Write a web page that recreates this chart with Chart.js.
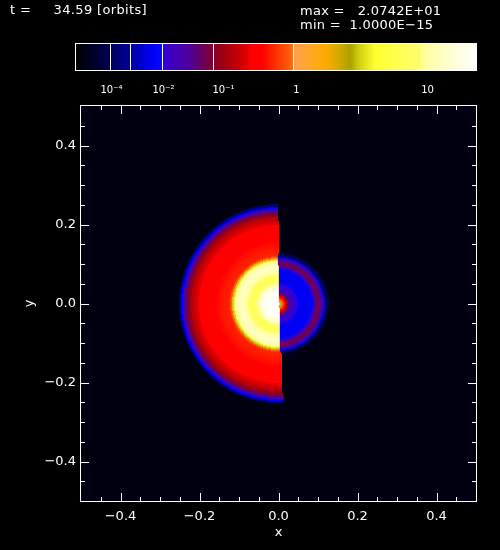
<!DOCTYPE html>
<html>
<head>
<meta charset="utf-8">
<title>Density map</title>
<script src="https://cdn.jsdelivr.net/npm/chart.js@4"></script>
<style>
  body { margin: 0; background: #000; }
  #wrap { position: relative; width: 500px; height: 550px; overflow: hidden; }
  canvas { position: absolute; left: 0; top: 0; }
  .head { position: absolute; color: #fff; font: 13px "DejaVu Sans", sans-serif; white-space: pre; line-height: 14px; }
</style>
</head>
<body>
<div id="wrap">
  <canvas id="mapChart" width="500" height="550"></canvas>
  <canvas id="barChart" width="500" height="75" style="top:30px;height:75px"></canvas>
  <div class="head" style="left:10px;top:3px;letter-spacing:0.35px">t =     34.59 [orbits]</div>
  <div class="head" style="left:300px;top:4px;letter-spacing:0.25px">max =   2.0742E+01</div>
  <div class="head" style="left:300px;top:18px;letter-spacing:0.25px">min =  1.0000E−15</div>
</div>
<script>
// axis ticks
const majorTicks = [-0.4, -0.2, 0.0, 0.2, 0.4];
const minorTicks = [-0.45, -0.35, -0.3, -0.25, -0.15, -0.1, -0.05, 0.05, 0.1, 0.15, 0.25, 0.3, 0.35, 0.45];

// density, one value per ring from the centre outwards
const ringWidth = 0.005;
const leftDensity = [20.5, 20.5, 20.5, 20.5, 20, 19.5, 19, 17, 14.5, 12, 10, 8, 7.5, 8, 8.5, 10.5, 11.5, 13, 13, 12.5, 12, 10, 3.4, 0.9,
  0.55, 0.53, 0.51, 0.5, 0.48, 0.46, 0.44, 0.42, 0.41, 0.4, 0.38, 0.36, 0.34, 0.33, 0.32, 0.3, 0.27, 0.24, 0.2, 0.18, 0.13, 0.1,
  0.05, 0.02, 0.006, 0.0003];
const rightDensity = [4.5, 3, 0.9, 0.3, 0.15, 0.05, 0.02, 0.012, 0.012, 0.012, 0.008, 0.005, 0.005, 0.005, 0.005, 0.005, 0.005,
  0.008, 0.02, 0.05, 0.08, 0.05, 0.012, 0.002, 0.00005];

// colour bar: colour stops by bin, bins of its tick lines and labels
const stopBins = [0, 34, 54, 74, 86, 89, 114, 136, 148, 171, 174, 186, 199, 217, 218, 234, 249, 264, 274, 282, 299, 345, 347, 400];
const stopColors = ['#000000', '#000058', '#0000a0', '#0000f0', '#0808ff', '#3800d0', '#50009a', '#800030', '#a00010', '#e00000',
  '#ff0000', '#ff0000', '#ff3000', '#ff6a10', '#ffa050', '#ffa828', '#ffaa00', '#d0aa00', '#aaa000', '#cccc10', '#ffff30', '#ffff70',
  '#ffffa0', '#ffffff'];
const barLineBins = [34, 54, 86, 137, 217, 345];
const barLineValues = [1e-4, 1e-3, 1e-2, 1e-1, 1, 10];
const barLabelBins = [35, 87, 147, 220, 351];
const barLabels = ['10⁻⁴', '10⁻²', '10⁻¹', '1', '10'];
const dataMin = 1e-15;
const dataMax = 20.742;

const textFont = { family: '"DejaVu Sans", sans-serif', size: 13 };

function hex(c) {
  return [1, 3, 5].map(i => parseInt(c.slice(i, i + 2), 16));
}

function binColor(bin) {
  let i = 0;
  while (i < stopBins.length - 2 && bin > stopBins[i + 1]) i++;
  const t = Math.min(1, Math.max(0, (bin - stopBins[i]) / (stopBins[i + 1] - stopBins[i])));
  const a = hex(stopColors[i]);
  const b = hex(stopColors[i + 1]);
  return `rgb(${a.map((v, k) => Math.round(v + (b[k] - v) * t)).join(',')})`;
}

// value -> colour through the same uneven scale as the bar
function densityColor(v) {
  const vals = [dataMin, ...barLineValues, dataMax];
  const bins = [0, ...barLineBins, 399];
  let i = 0;
  while (i < vals.length - 2 && v > vals[i + 1]) i++;
  const t = Math.log(v / vals[i]) / Math.log(vals[i + 1] / vals[i]);
  return binColor(bins[i] + (bins[i + 1] - bins[i]) * t);
}

// the two halves meet on a slightly tilted line
function splitX(y) {
  return 0.0035 - 0.023 * y;
}

const cellSize = 0.0025;
const cells = [];
const cellColors = [];
for (let ix = -108; ix < 60; ix++) {
  for (let iy = -108; iy < 108; iy++) {
    const x = (ix + 0.5) * cellSize;
    const y = (iy + 0.5) * cellSize;
    const ring = Math.floor(Math.hypot(x, y) / ringWidth);
    const v = (x < splitX(y) ? leftDensity : rightDensity)[ring];
    if (v === undefined) continue;
    cells.push({ x, y });
    cellColors.push(densityColor(v));
  }
}

const framePlugin = {
  id: 'frame',
  beforeDraw: (chart, args, options) => {
    if (!options.background) return;
    const { ctx, chartArea: a } = chart;
    ctx.save();
    ctx.fillStyle = options.background;
    ctx.fillRect(a.left, a.top, a.right - a.left, a.bottom - a.top);
    ctx.restore();
  },
  afterDraw: (chart) => {
    const { ctx, chartArea: a, scales } = chart;
    ctx.save();
    ctx.strokeStyle = '#fff';
    ctx.lineWidth = 1;
    ctx.strokeRect(a.left - 0.5, a.top - 0.5, a.right - a.left + 1, a.bottom - a.top + 1);
    if (scales.y && scales.y.type === 'linear' && scales.y.options.display) {
      const mark = (values, len) => {
        ctx.beginPath();
        values.forEach(v => {
          const px = Math.round(scales.x.getPixelForValue(v)) + 0.5;
          const py = Math.round(scales.y.getPixelForValue(v)) + 0.5;
          ctx.moveTo(px, a.bottom);
          ctx.lineTo(px, a.bottom - len);
          ctx.moveTo(px, a.top);
          ctx.lineTo(px, a.top + len);
          ctx.moveTo(a.left, py);
          ctx.lineTo(a.left + len, py);
          ctx.moveTo(a.right, py);
          ctx.lineTo(a.right - len, py);
        });
        ctx.stroke();
      };
      mark(majorTicks, 8);
      mark(minorTicks, 4);
    }
    ctx.restore();
  }
};

function axis(title, fit, tickPad, titlePad) {
  return {
    type: 'linear',
    min: -0.5,
    max: 0.5,
    afterBuildTicks: s => { s.ticks = majorTicks.map(value => ({ value })); },
    afterFit: fit,
    grid: { display: false, drawTicks: false },
    border: { display: false },
    ticks: {
      color: '#fff',
      font: textFont,
      padding: tickPad,
      autoSkip: false,
      maxRotation: 0,
      callback: v => v.toFixed(1).replace('-', '−')
    },
    title: { display: true, text: title, color: '#fff', font: textFont, padding: titlePad }
  };
}

new Chart(document.getElementById('mapChart'), {
  type: 'scatter',
  data: {
    datasets: [{
      data: cells,
      pointStyle: 'rect',
      pointRadius: 1.5,
      pointBorderWidth: 0,
      pointBackgroundColor: cellColors,
      pointHoverRadius: 1.5
    }]
  },
  options: {
    responsive: false,
    animation: false,
    events: [],
    layout: { padding: { top: 106, right: 24 } },
    scales: {
      x: axis('x', s => { s.height = 49; }, 8, { top: 1, bottom: 10 }),
      y: axis('y', s => { s.width = 81; }, 5, { top: 22, bottom: 1 })
    },
    plugins: {
      legend: { display: false },
      tooltip: { enabled: false },
      frame: { background: '#000010' }
    }
  },
  plugins: [framePlugin]
});

const barBins = [];
const barColors = [];
for (let i = 0; i < 400; i++) {
  barBins.push(i);
  barColors.push(binColor(i));
}

new Chart(document.getElementById('barChart'), {
  type: 'bar',
  data: {
    labels: barBins,
    datasets: [{
      data: barBins.map(() => 1),
      backgroundColor: barColors,
      barPercentage: 1,
      categoryPercentage: 1
    }]
  },
  options: {
    responsive: false,
    animation: false,
    events: [],
    layout: { padding: { top: 14, left: 76, right: 24 } },
    scales: {
      x: {
        afterFit: s => { s.height = 35; },
        border: { display: false },
        grid: {
          offset: false,
          drawTicks: false,
          z: 1,
          color: c => barLineBins.includes(c.index) ? '#fff' : 'rgba(0,0,0,0)'
        },
        ticks: {
          color: '#fff',
          font: { family: '"DejaVu Sans", sans-serif', size: 10 },
          padding: 14,
          autoSkip: false,
          maxRotation: 0,
          callback: (v, i) => {
            const k = barLabelBins.indexOf(i);
            return k < 0 ? '' : barLabels[k];
          }
        }
      },
      y: { display: false, min: 0, max: 1 }
    },
    plugins: {
      legend: { display: false },
      tooltip: { enabled: false }
    }
  },
  plugins: [framePlugin]
});
</script>
</body>
</html>
